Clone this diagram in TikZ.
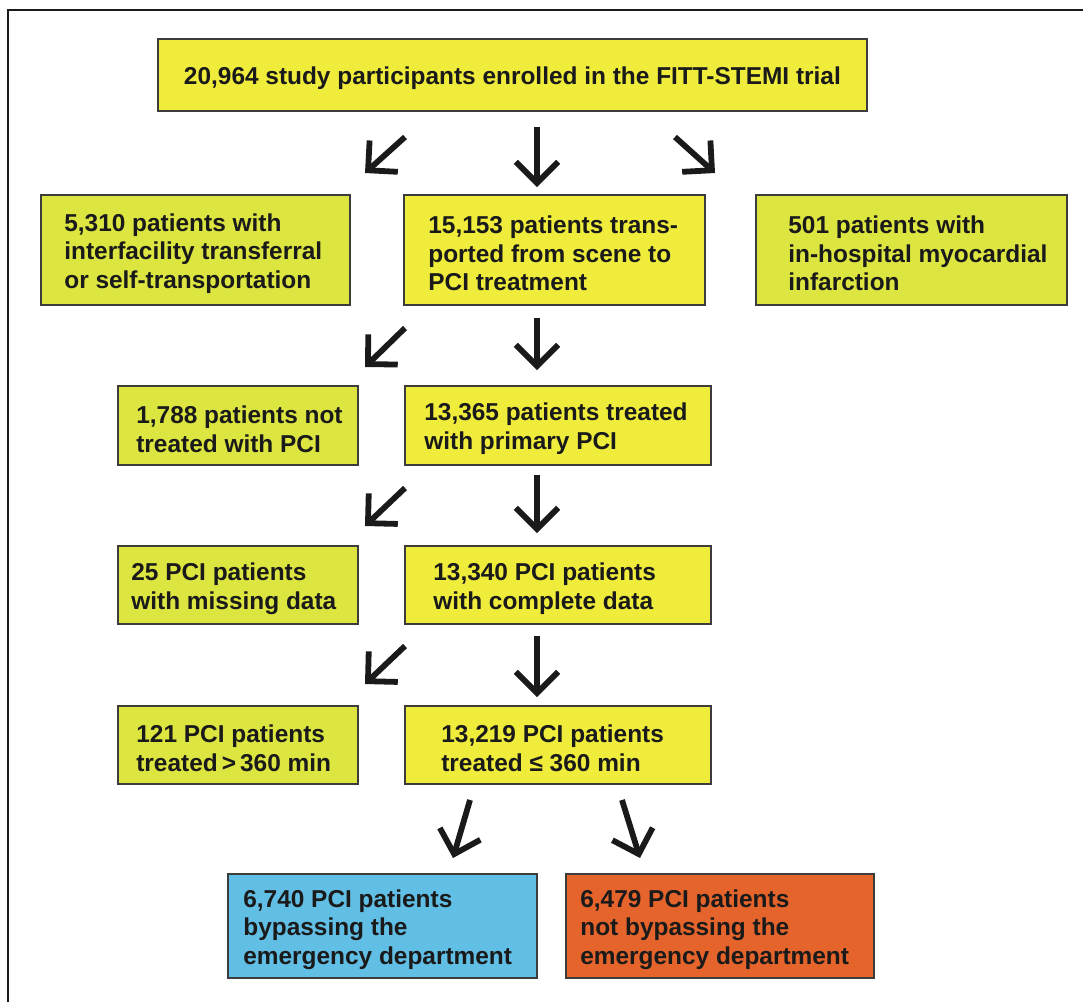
\documentclass[tikz,border=0pt]{standalone}
\usepackage{fontspec}
\setmainfont{Liberation Sans}
\usepackage{xcolor}
\usepackage{tikz}
\usetikzlibrary{arrows.meta}
\usetikzlibrary{positioning}
\tikzset{>={Straight Barb[length=12pt,width=24pt]}}

\definecolor{boxyellow}{RGB}{240,236,60}
\definecolor{boxlime}{RGB}{221,230,64}
\definecolor{boxblue}{RGB}{97,190,229}
\definecolor{boxorange}{RGB}{228,100,44}
\definecolor{ink}{RGB}{26,26,26}

\tikzset{
	pbox/.style={draw=ink!85, line width=1.1pt, anchor=north west, inner sep=0pt},
	ptext/.style={align=left, inner sep=0pt, yshift=-0.07cm, text=ink,
		font=\fontsize{13.9}{16.3}\selectfont\bfseries},
	arr/.style={->, line width=3.3pt, draw=ink}
}

\begin{document}
\begin{tikzpicture}[x=0.02cm, y=-0.02cm]
	
	\useasboundingbox (0,0) rectangle (1083,1002);
	
	%% Cornice
	\coordinate[](fb) at (8,1002);
	\coordinate[](ftl) at (8,10);
	\coordinate[](ftr) at (1083,10);
	\draw[line width=1.2pt, draw=ink] (fb) -- (ftl) -- (ftr);
	
	% Riquadri
	\node[pbox, fill=boxyellow, minimum width=14.18cm, minimum height=1.44cm]
	(enrolled) at (157,38) {};
	\node[ptext] (enrolled-txt) at (enrolled.center)
	{20,964 study participants enrolled in the FITT-STEMI trial};
	
	\node[pbox, fill=boxlime, minimum width=6.18cm, minimum height=2.2cm] (transfer) at (40,194) {};
	\node[ptext, right=0.48cm of transfer.west] (transfer-txt)
	{5,310 patients with\\interfacility transferral\\or self-transportation};
	
	\node[pbox, fill=boxyellow, minimum width=6.02cm, minimum height=2.2cm] (transport) at (403,194) {};
	\node[ptext, right=0.5cm of transport.west] (transport-txt)
	{15,153 patients trans-\\ported from scene to\\PCI treatment};
	
	\node[pbox, fill=boxlime, minimum width=6.22cm, minimum height=2.2cm] (inhosp) at (755,194) {};
	\node[ptext, right=0.66cm of inhosp.west] (inhosp-txt)
	{501 patients with\\in-hospital myocardial\\infarction};
	
	\node[pbox, fill=boxlime, minimum width=4.8cm, minimum height=1.58cm] (nopci) at (117,385) {};
	\node[ptext, right=0.38cm of nopci.west] (nopci-txt)
	{1,788 patients not\\treated with PCI};
	
	\node[pbox, fill=boxyellow, minimum width=6.12cm, minimum height=1.58cm] (primary) at (404,385) {};
	\node[ptext, right=0.4cm of primary.west] (primary-txt)
	{13,365 patients treated\\with primary PCI};
	
	\node[pbox, fill=boxlime, minimum width=4.8cm, minimum height=1.56cm] (missing) at (117,545) {};
	\node[ptext, right=0.28cm of missing.west] (missing-txt)
	{25 PCI patients\\with missing data};
	
	\node[pbox, fill=boxyellow, minimum width=6.12cm, minimum height=1.56cm] (complete) at (404,545) {};
	\node[ptext, right=0.58cm of complete.west] (complete-txt)
	{13,340 PCI patients\\with complete data};
	
	\node[pbox, fill=boxlime, minimum width=4.8cm, minimum height=1.56cm] (late) at (117,705) {};
	\node[ptext, right=0.38cm of late.west] (late-txt)
	{121 PCI patients\\treated\,>\,360 min};
	
	\node[pbox, fill=boxyellow, minimum width=6.12cm, minimum height=1.56cm] (early) at (404,705) {};
	\node[ptext, right=0.74cm of early.west] (early-txt)
	{13,219 PCI patients\\treated ≤ 360 min};
	
	\node[pbox, fill=boxblue, minimum width=6.18cm, minimum height=2.08cm] (bypass) at (227,873) {};
	\node[ptext, right=0.32cm of bypass.west] (bypass-txt)
	{6,740 PCI patients\\bypassing the\\emergency department};
	
	\node[pbox, fill=boxorange, minimum width=6.16cm, minimum height=2.08cm] (nobypass) at (565,873) {};
	\node[ptext, right=0.3cm of nobypass.west] (nobypass-txt)
	{6,479 PCI patients\\not bypassing the\\emergency department};
	
	%% Frecce
	\begin{scope}[]
	\foreach \n/\ya/\yb in {1/137/173, 2/328/367, 3/488/526, 4/646/684}
	{
	\coordinate[](ls\n) at (405,\ya);
	\coordinate[](le\n) at (365,\yb);
	\draw[arr] (ls\n) -- (le\n);
	}
	\foreach \n/\ya/\yb in {1/127/187, 2/318/370, 3/475/533, 4/636/697}
	{
	\coordinate[](ms\n) at (537,\ya);
	\coordinate[](me\n) at (537,\yb);
	\draw[arr] (ms\n) -- (me\n);
	}
	\end{scope}
	
	\coordinate[](rs) at (675,137);
	\coordinate[](re) at (715,173);
	\draw[arr] (rs) -- (re);
	
	\coordinate[](bls) at (470,800);
	\coordinate[](ble) at (453,858);
	\coordinate[](brs) at (622,800);
	\coordinate[](bre) at (640,858);
	\draw[arr] (bls) -- (ble);
	\draw[arr] (brs) -- (bre);
	
\end{tikzpicture}
\end{document}
